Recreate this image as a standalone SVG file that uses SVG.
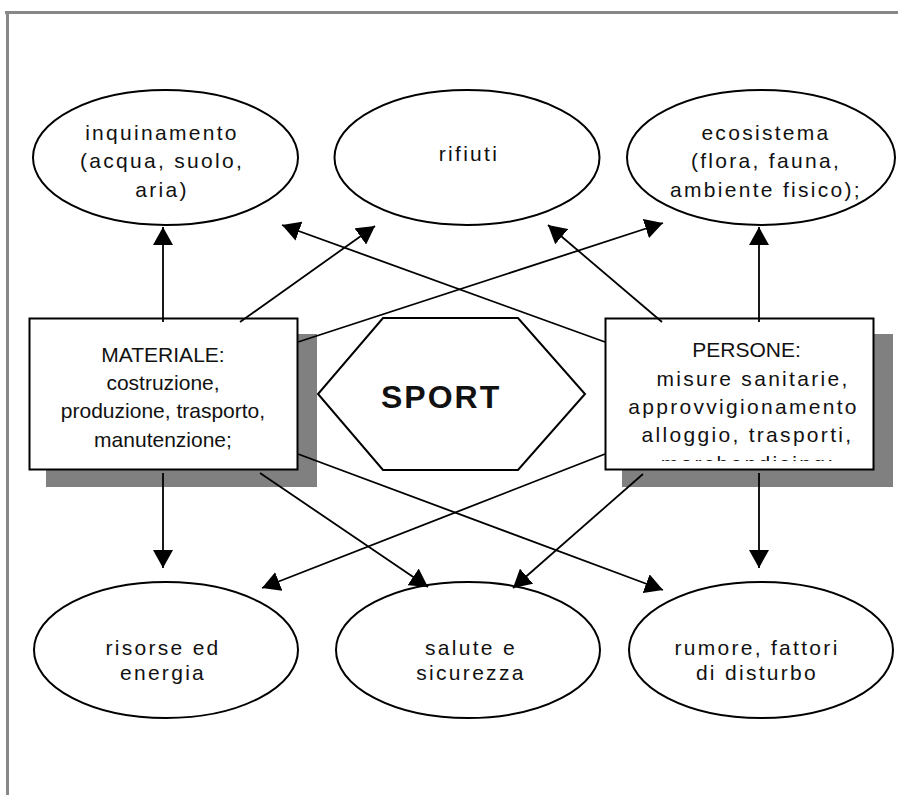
<svg xmlns="http://www.w3.org/2000/svg" width="898" height="795" viewBox="0 0 898 795">
<defs>
<style>
.bg{fill:#ffffff}
.frame{fill:#888888}
.ell{fill:#ffffff;stroke:#000;stroke-width:2}
.box{fill:#ffffff;stroke:#000;stroke-width:2}
.shadow{fill:#808080}
.hex{fill:#ffffff;stroke:#000;stroke-width:2}
.t{font-family:"Liberation Sans",Arial,sans-serif;font-size:21px;letter-spacing:2.3px;fill:#111;text-anchor:middle}
.tb{font-family:"Liberation Sans",Arial,sans-serif;font-size:21px;fill:#111;text-anchor:middle}
.sport{font-family:"Liberation Sans",Arial,sans-serif;font-size:32px;font-weight:bold;letter-spacing:2px;fill:#111}
.con line{stroke:#000;stroke-width:1.8;marker-end:url(#ah)}
</style>
<marker id="ah" markerUnits="userSpaceOnUse" viewBox="0 0 20 20" markerWidth="20" markerHeight="20" refX="18" refY="10" orient="auto">
<path d="M0,0 L18,10 L0,20 z" fill="#000"/>
</marker>
<clipPath id="clipP"><rect x="606" y="319" width="267" height="142"/></clipPath>
</defs>
<rect class="bg" x="0" y="0" width="898" height="795"/>
<rect class="frame" x="5" y="11" width="893" height="3"/>
<rect class="frame" x="6" y="11" width="3" height="784"/>

<g id="inquinamento">
<ellipse class="ell" cx="165.5" cy="157.5" rx="132.5" ry="67.5"/>
<text class="t" x="162" y="140">inquinamento</text>
<text class="t" x="162" y="168">(acqua, suolo,</text>
<text class="t" x="162" y="197">aria)</text>
</g>
<g id="rifiuti">
<ellipse class="ell" cx="467" cy="157.5" rx="132.5" ry="67.5"/>
<text class="t" x="469" y="161">rifiuti</text>
</g>
<g id="ecosistema">
<ellipse class="ell" cx="761" cy="157.5" rx="134" ry="67.5"/>
<text class="t" x="766" y="140">ecosistema</text>
<text class="t" x="766" y="168">(flora, fauna,</text>
<text class="t" x="766" y="197">ambiente fisico);</text>
</g>

<g id="risorse">
<ellipse class="ell" cx="166" cy="650" rx="132" ry="68"/>
<text class="t" x="163" y="655">risorse ed</text>
<text class="t" x="163" y="680">energia</text>
</g>
<g id="salute">
<ellipse class="ell" cx="468" cy="650" rx="132" ry="68"/>
<text class="t" x="471" y="655">salute e</text>
<text class="t" x="471" y="680">sicurezza</text>
</g>
<g id="rumore">
<ellipse class="ell" cx="761" cy="650" rx="132" ry="68"/>
<text class="t" x="757" y="655">rumore, fattori</text>
<text class="t" x="757" y="680">di disturbo</text>
</g>

<g id="materiale">
<rect class="shadow" x="46" y="334" width="271" height="153"/>
<rect class="box" x="29.5" y="318.5" width="268" height="151"/>
<text class="tb" x="163" y="362">MATERIALE:</text>
<text class="tb" x="163" y="390">costruzione,</text>
<text class="tb" x="163" y="418">produzione, trasporto,</text>
<text class="tb" x="163" y="447">manutenzione;</text>
</g>

<g id="persone">
<rect class="shadow" x="622" y="334" width="271" height="153"/>
<rect class="box" x="605.5" y="318.5" width="268" height="151"/>
<g clip-path="url(#clipP)">
<text class="tb" x="746.5" y="357">PERSONE:</text>
<text class="t" x="753" y="386">misure sanitarie,</text>
<text class="t" x="743.5" y="414">approvvigionamento</text>
<text class="t" x="747.5" y="442">alloggio, trasporti,</text>
<text class="t" x="748" y="471">merchandising;</text>
</g>
</g>

<g id="sport">
<polygon class="hex" points="383,318 518,318 585,394 518,470 383,470 318,394"/>
<text class="sport" x="381" y="408">SPORT</text>
</g>

<g id="connectors" class="con">
<line x1="163" y1="322" x2="163" y2="227"/>
<line x1="240" y1="322" x2="375" y2="226"/>
<line x1="298" y1="342" x2="663" y2="223"/>
<line x1="298" y1="454" x2="663" y2="590"/>
<line x1="260" y1="473" x2="428" y2="587"/>
<line x1="163" y1="473" x2="163" y2="568"/>
<line x1="759" y1="322" x2="759" y2="227"/>
<line x1="662" y1="322" x2="548" y2="225"/>
<line x1="605" y1="342" x2="282" y2="225"/>
<line x1="605" y1="454" x2="262" y2="588"/>
<line x1="643" y1="474" x2="513" y2="588"/>
<line x1="759" y1="473" x2="759" y2="568"/>
</g>
</svg>
